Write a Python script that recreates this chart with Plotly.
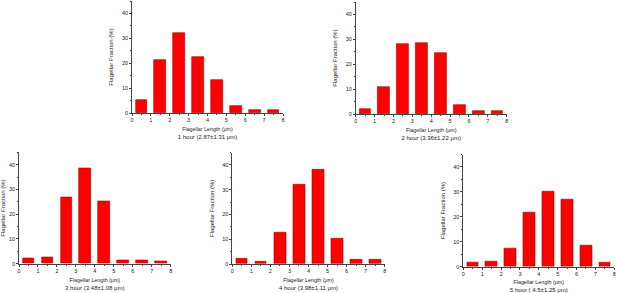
import plotly.graph_objects as go

centers = [0.5, 1.5, 2.5, 3.5, 4.5, 5.5, 6.5, 7.5]
x_ticks = [0, 1, 2, 3, 4, 5, 6, 7, 8]
y_ticks = [0, 10, 20, 30, 40]

hour1 = [5.3, 21.3, 32.0, 22.7, 13.3, 2.7, 1.3, 1.3]
hour2 = [2.1, 10.7, 28.0, 28.5, 24.7, 3.7, 1.1, 1.1]
hour3 = [2.0, 2.7, 26.8, 38.6, 25.2, 1.5, 1.5, 1.0]
hour4 = [2.1, 0.9, 12.7, 31.9, 38.2, 10.2, 1.6, 1.6]
hour5 = [1.5, 2.0, 7.5, 21.9, 30.0, 27.0, 8.5, 1.5]

labels = [
    "1 hour (2.87\u00b11.31 \u03bcm)",
    "2 hour (3.36\u00b11.22 \u03bcm)",
    "3 hour (3.48\u00b11.08 \u03bcm)",
    "4 hour (3.98\u00b11.11 \u03bcm)",
    "5 hour ( 4.5\u00b11.25 \u03bcm)",
]
series = [hour1, hour2, hour3, hour4, hour5]

W, H = 617, 293
# panel pixel boxes: (x0, x1, y_bottom, y_top)
boxes = [
    (132, 283, 113, 1),
    (355.7, 506.7, 114, 2),
    (19, 170.7, 263.7, 152.3),
    (232.3, 384.7, 264, 152.6),
    (463.3, 614.3, 266.7, 154.5),
]

fig = go.Figure()
layout = {}
font_family = "Liberation Sans, Arial, sans-serif"
for i, (vals, lab, box) in enumerate(zip(series, labels, boxes)):
    n = "" if i == 0 else str(i + 1)
    fig.add_trace(go.Bar(
        x=centers, y=vals, width=0.62,
        marker=dict(color="#ff0000", line=dict(color="#a00000", width=0.6)),
        xaxis="x" + n, yaxis="y" + n, showlegend=False, hoverinfo="skip",
    ))
    x0, x1, yb, yt = box
    layout["xaxis" + n] = dict(
        domain=[x0 / W, x1 / W], anchor="y" + n, range=[0, 8],
        automargin=False,
        tickvals=x_ticks, ticks="outside", ticklen=2, tickwidth=0.6,
        tickcolor="#444", showline=True, linecolor="#444", linewidth=0.7,
        showgrid=False, zeroline=False,
        tickfont=dict(size=5.5, color="#222", family=font_family),
        title=dict(text="<span style='font-size:5.3px'>Flagellar Length (\u03bcm)</span><br>" + lab,
                   font=dict(size=6, color="#222", family=font_family), standoff=4),
        minor=dict(ticks="outside", ticklen=1.2, tickcolor="#444", dtick=0.5),
    )
    layout["yaxis" + n] = dict(
        domain=[1 - yb / H, 1 - yt / H], anchor="x" + n, range=[0, 45],
        automargin=False,
        tickvals=y_ticks, ticks="outside", ticklen=2, tickwidth=0.6,
        tickcolor="#444", showline=True, linecolor="#444", linewidth=0.7,
        showgrid=False, zeroline=False,
        tickfont=dict(size=5.5, color="#222", family=font_family),
        title=dict(text="Flagellar Fraction (%)",
                   font=dict(size=6, color="#222", family=font_family), standoff=7),
        minor=dict(ticks="outside", ticklen=1.2, tickcolor="#444", dtick=5),
    )

fig.update_layout(
    width=W, height=H, margin=dict(l=0, r=0, t=0, b=0),
    paper_bgcolor="white", plot_bgcolor="white", bargap=0,
    **layout,
)
fig.write_html(
    "out.html",
    config={"displayModeBar": False},
    post_script="document.body.style.margin='0px';document.body.style.overflow='hidden';",
)
